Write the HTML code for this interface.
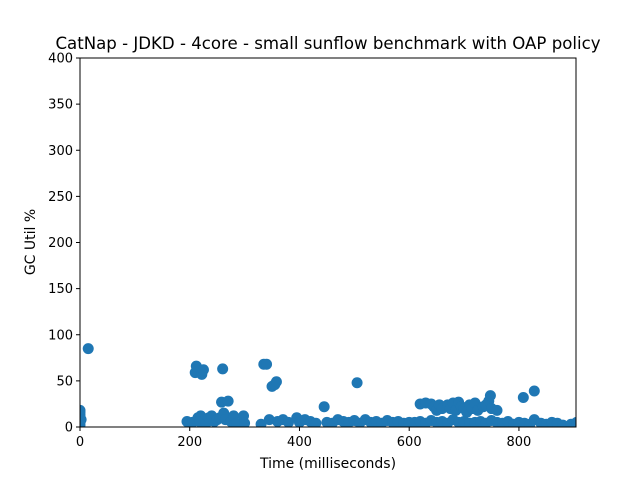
<!DOCTYPE html>
<html><head><meta charset="utf-8"><style>body{margin:0;background:#fff}svg{font-family:"DejaVu Sans","Liberation Sans",sans-serif}</style></head>
<body>
<svg id="chart" width="640" height="480" xmlns="http://www.w3.org/2000/svg">
<defs><clipPath id="clip"><rect x="80" y="58" width="496" height="369"/></clipPath></defs>
<rect width="640" height="480" fill="#fff"/>
<text x="328" y="49" text-anchor="middle" font-size="16.6">CatNap - JDKD - 4core -  small sunflow benchmark with OAP policy</text>
<g id="points" clip-path="url(#clip)"></g>
<g id="axes"></g>
<text x="328" y="468" text-anchor="middle" font-size="14">Time (milliseconds)</text>
<text transform="translate(35,242) rotate(-90)" text-anchor="middle" font-size="14">GC Util %</text>
</svg>
<script>
const xTicks=[0,200,400,600,800];
const yTicks=[0,50,100,150,200,250,300,350,400];
const timeMs=[0,0,0,0,0,0,2,15,
195,205,210,212,215,220,222,225,218,230,235,240,245,250,255,258,260,262,265,270,275,280,285,298,300,
330,335,340,345,350,355,358,360,370,380,395,400,410,420,430,445,450,460,470,480,490,500,505,510,520,530,540,550,560,570,580,590,600,
620,630,640,645,650,655,660,670,675,680,685,690,695,700,705,710,715,720,725,735,740,745,748,750,760,808,828,
610,620,630,640,650,660,670,680,690,700,710,720,730,740,750,760,770,780,790,800,810,820,828,840,850,860,870,880,895,905];
const gcUtil=[2,5,9,13,16,18,8,85,
6,5,59,66,10,12,57,62,6,4,10,12,6,8,10,27,63,15,8,28,6,12,4,12,4,
3,68,68,8,44,46,49,6,8,5,10,5,8,6,4,22,5,4,8,6,5,7,48,4,8,5,6,4,7,5,6,4,5,
25,26,25,22,18,24,20,24,20,26,18,27,22,20,16,24,20,26,18,22,24,28,34,20,18,32,39,
5,6,4,7,5,6,4,8,5,6,4,5,6,4,7,5,4,6,3,5,4,3,8,4,3,5,4,2,3,5];
const X0=80,X1=576,XMAX=904,Y0=427,Y1=58,YMAX=400;
const sx=v=>X0+v/XMAX*(X1-X0), sy=v=>Y0-v/YMAX*(Y0-Y1);
const NS="http://www.w3.org/2000/svg";
const pg=document.getElementById('points');
for(let i=0;i<timeMs.length;i++){
 const c=document.createElementNS(NS,'circle');
 c.setAttribute('cx',sx(timeMs[i]));c.setAttribute('cy',sy(gcUtil[i]));c.setAttribute('r',5.5);c.setAttribute('fill','#1f77b4');
 
 
 pg.appendChild(c);
}
const ag=document.getElementById('axes');
const fr=document.createElementNS(NS,'rect');
fr.setAttribute('x',X0);fr.setAttribute('y',Y1);fr.setAttribute('width',X1-X0);fr.setAttribute('height',Y0-Y1);fr.setAttribute('fill','none');fr.setAttribute('stroke','#000');fr.setAttribute('stroke-width','1');


ag.appendChild(fr);
xTicks.forEach(t=>{
 const l=document.createElementNS(NS,'line');l.setAttribute('x1',sx(t));l.setAttribute('x2',sx(t));l.setAttribute('y1',Y0);l.setAttribute('y2',Y0+4);l.setAttribute('stroke','#000');
 
 
 ag.appendChild(l);
 const tx=document.createElementNS(NS,'text');tx.setAttribute('x',sx(t));tx.setAttribute('y',Y0+19);tx.setAttribute('text-anchor','middle');tx.setAttribute('font-size','13');tx.textContent=t;
 
 
 ag.appendChild(tx);
});
yTicks.forEach(t=>{
 const l=document.createElementNS(NS,'line');l.setAttribute('x1',X0-4);l.setAttribute('x2',X0);l.setAttribute('y1',sy(t));l.setAttribute('y2',sy(t));l.setAttribute('stroke','#000');
 
 
 ag.appendChild(l);
 const tx=document.createElementNS(NS,'text');tx.setAttribute('x',X0-7);tx.setAttribute('y',sy(t)+4.5);tx.setAttribute('text-anchor','end');tx.setAttribute('font-size','13');tx.textContent=t;
 
 
 ag.appendChild(tx);
});
</script>
</body></html>
